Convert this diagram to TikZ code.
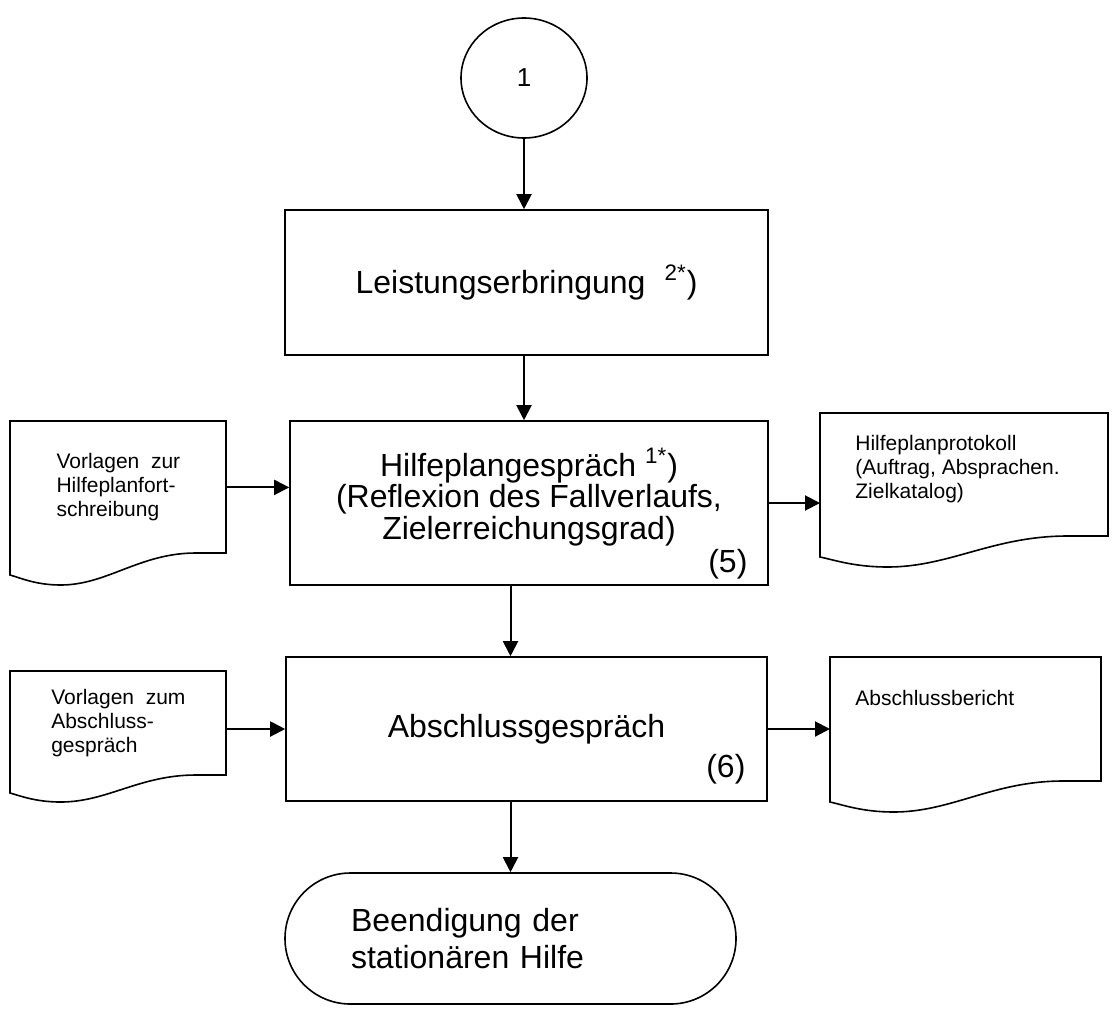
\documentclass[tikz,border=0pt]{standalone}
\usepackage{fontspec}
\setmainfont{Liberation Sans}
\usetikzlibrary{arrows.meta,shapes.geometric}
\tikzset{>={Triangle[length=7.5pt,width=7.5pt]}}
\tikzset{
  box/.style = {draw, line width=0.8pt, align=center,
    font=\fontsize{16}{14.5}\selectfont},
  terminal/.style = {draw, line width=0.8pt, rounded corners=32.7pt,
    align=left, font=\fontsize{16}{18.5}\selectfont},
  doc/.style = {anchor=north west, align=left,
    font=\fontsize{10.5}{12}\selectfont},
  num/.style = {anchor=base east, inner sep=0pt,
    font=\fontsize{16}{18}\selectfont},
  flow/.style = {->, line width=1pt}
}
% document outline below a named node: width, right drop, left drop, lowest drop
\newcommand{\docframe}[5]{%
  \begin{scope}[shift={(#1.north west)}]
    \draw[line width=0.8pt] (0,0) -- (#2,0) -- (#2,#3) -- ({0.86*#2},#3)
      .. controls ({0.6*#2},#3) and ({0.45*#2},#5) .. ({0.235*#2},#5)
      .. controls ({0.12*#2},#5) and ({0.05*#2},{#4+3}) .. (0,#4) -- cycle;
  \end{scope}}

\begin{document}
\begin{tikzpicture}[x=0.5pt,y=-0.5pt]
  \useasboundingbox (0,0) rectangle (1112,1012);
  % main column
  \node[draw, ellipse, line width=0.8pt, minimum width=63pt, minimum height=60pt,
    inner sep=0pt, font=\fontsize{13}{15}\selectfont] (start) at (524,78) {1};
  \node[box, minimum width=241.5pt, minimum height=72.5pt] (box1) at (526.5,282.5)
    {Leistungserbringung\hspace{9.5pt}\textsuperscript{2*})};
  \node[box, minimum width=239pt, minimum height=82pt, text depth=9pt] (box2) at (529,503)
    {Hilfeplangespräch \textsuperscript{1*})\\(Reflexion des Fallverlaufs,\\Zielerreichungsgrad)};
  \node[num] (n5) at ([shift={(-21,-13)}]box2.south east) {(5)};
  \node[box, minimum width=240.5pt, minimum height=72pt] (box3) at (526.5,729)
    {Abschlussgespräch};
  \node[num] (n6) at ([shift={(-22,-24)}]box3.south east) {(6)};
  \node[terminal, minimum width=225.5pt, minimum height=65.5pt, text width=159.5pt]
    (stop) at (510.5,938.5) {Beendigung der\\stationären Hilfe};
  % documents
  \node[doc, minimum width=108pt, minimum height=66pt] (docA) at (10,421)
    {Vorlagen\ \ zur\\Hilfeplanfort-\\schreibung};
  \docframe{docA}{216}{132}{154}{164}
  \node[doc, inner xsep=17.5pt, inner ysep=11pt] (docB) at (820,413)
    {Hilfeplanprotokoll\\(Auftrag, Absprachen.\\Zielkatalog)};
  \docframe{docB}{288}{123}{144}{154}
  \node[doc, minimum width=108pt, minimum height=52pt] (docC) at (10,671)
    {Vorlagen\ \ zum\\Abschluss-\\gespräch};
  \docframe{docC}{216}{104}{122}{131}
  \node[doc, inner xsep=12.5pt, inner ysep=16.5pt] (docD) at (830,657)
    {Abschlussbericht};
  \docframe{docD}{271}{124}{145}{155}
  % arrows
  \draw[flow] (start.south) -- (start.south |- box1.north);
  \draw[flow] (box1.south -| start.south) -- (start.south |- box2.north);
  \draw[flow] (box2.south -| stop.north) -- (box3.north -| stop.north);
  \draw[flow] (box3.south -| stop.north) -- (stop.north);
  \draw[flow] (docA.east) -- (docA.east -| box2.west);
  \draw[flow] (box2.east) -- (box2.east -| docB.west);
  \draw[flow] (docC.east |- box3.west) -- (box3.west);
  \draw[flow] (box3.east) -- (box3.east -| docD.west);
\end{tikzpicture}
\end{document}
